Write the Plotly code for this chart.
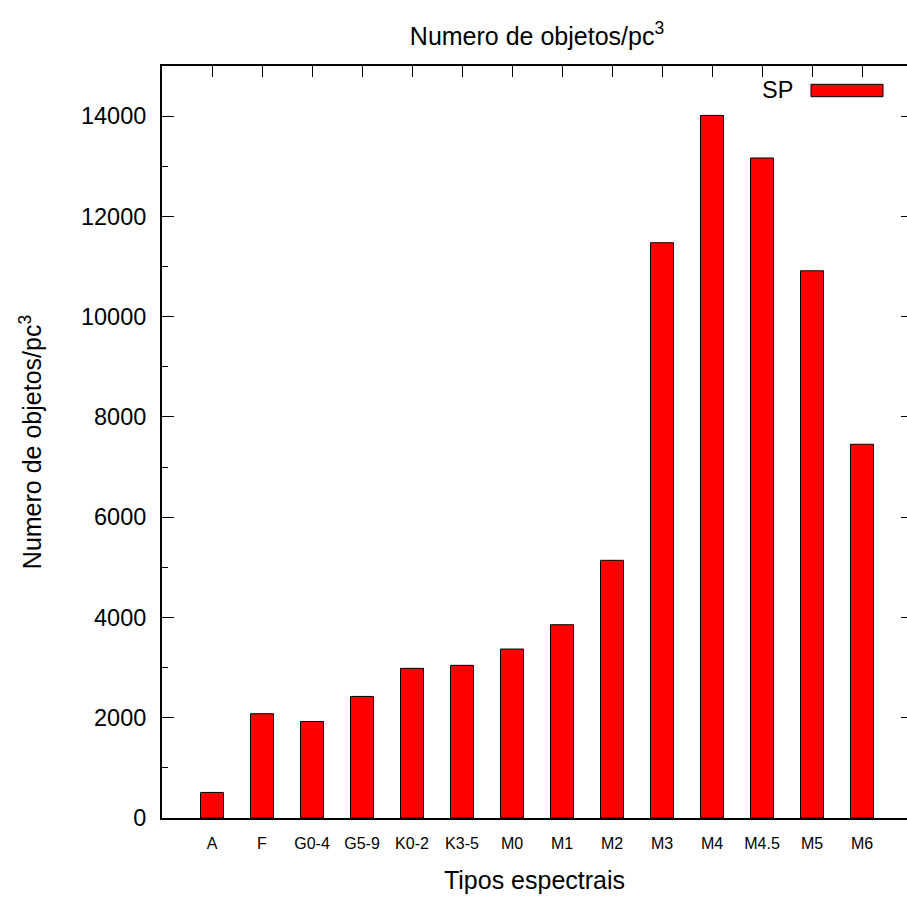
import plotly.graph_objects as go

categories = ["A", "F", "G0-4", "G5-9", "K0-2", "K3-5", "M0", "M1", "M2",
              "M3", "M4", "M4.5", "M5", "M6"]
sp_values = [510, 2080, 1925, 2425, 2985, 3045, 3370, 3855, 5140,
             11475, 14015, 13165, 10915, 7455]
y_tick_values = [0, 2000, 4000, 6000, 8000, 10000, 12000, 14000]
y_tick_labels = ["0", "2000", "4000", "6000", "8000", "10000", "12000", "14000"]
y_range = [0, 15000]
x_range = [-1, 13.9]

FONT = "Liberation Sans, Arial, sans-serif"

fig = go.Figure()
fig.add_trace(go.Bar(
    x=categories, y=sp_values, name="SP", width=0.46,
    marker=dict(color="#ff0000", line=dict(color="black", width=1)),
    showlegend=False,
))
# invisible helper trace so the mirrored tick axes are drawn
fig.add_trace(go.Scatter(
    x=categories, y=sp_values, xaxis="x2", yaxis="y2", mode="markers",
    marker=dict(opacity=0), hoverinfo="skip", showlegend=False,
))

fig.update_layout(
    width=907, height=898,
    margin=dict(l=162, r=0, t=66, b=80),
    paper_bgcolor="white", plot_bgcolor="white",
    font=dict(family=FONT, color="black"),
    title=dict(text="Numero de objetos/pc<sup>3</sup>", x=537 / 907, xanchor="center",
               xref="container", y=1 - 36 / 898, yanchor="middle", yref="container",
               font=dict(size=25)),
    xaxis=dict(
        type="category", categoryorder="array", categoryarray=categories,
        range=x_range, showline=True, linecolor="black", linewidth=2, mirror=True,
        ticks="", showgrid=False, zeroline=False, tickfont=dict(size=16),
        ticklabelstandoff=10,
        title=dict(text="Tipos espectrais", font=dict(size=25), standoff=20),
    ),
    xaxis2=dict(
        type="category", categoryorder="array", categoryarray=categories,
        overlaying="x", side="top", range=x_range, showline=False,
        ticks="inside", ticklen=11, tickwidth=1, tickcolor="black",
        showticklabels=False, showgrid=False, zeroline=False,
    ),
    yaxis=dict(
        range=y_range, tickvals=y_tick_values, ticktext=y_tick_labels,
        showline=True, linecolor="black",
        linewidth=2, mirror=False, ticks="inside", ticklen=12, tickwidth=1,
        tickcolor="black", showgrid=False, zeroline=False, tickfont=dict(size=23.5),
        minor=dict(ticks="inside", ticklen=6, tickwidth=1, tickcolor="black", dtick=1000),
        ticklabelstandoff=9,
        title=dict(text="Numero de objetos/pc<sup>3</sup>", font=dict(size=25), standoff=32),
    ),
    yaxis2=dict(
        range=y_range, tickvals=y_tick_values, overlaying="y", side="right",
        showline=False, ticks="inside", ticklen=6, tickwidth=1, tickcolor="black",
        showticklabels=False, showgrid=False, zeroline=False,
    ),
    shapes=[dict(type="rect", xref="paper", yref="paper",
                 x0=(811 - 162) / 745, x1=(883 - 162) / 745,
                 y0=(818 - 96.7) / 752, y1=(818 - 84.3) / 752,
                 fillcolor="#ff0000", line=dict(color="black", width=1))],
    annotations=[dict(text="SP", xref="paper", yref="paper",
                      x=(795 - 162) / 745, y=(818 - 90.5) / 752,
                      xanchor="right", yanchor="middle", showarrow=False,
                      font=dict(size=23.5))],
)

fig.write_html("out.html")
